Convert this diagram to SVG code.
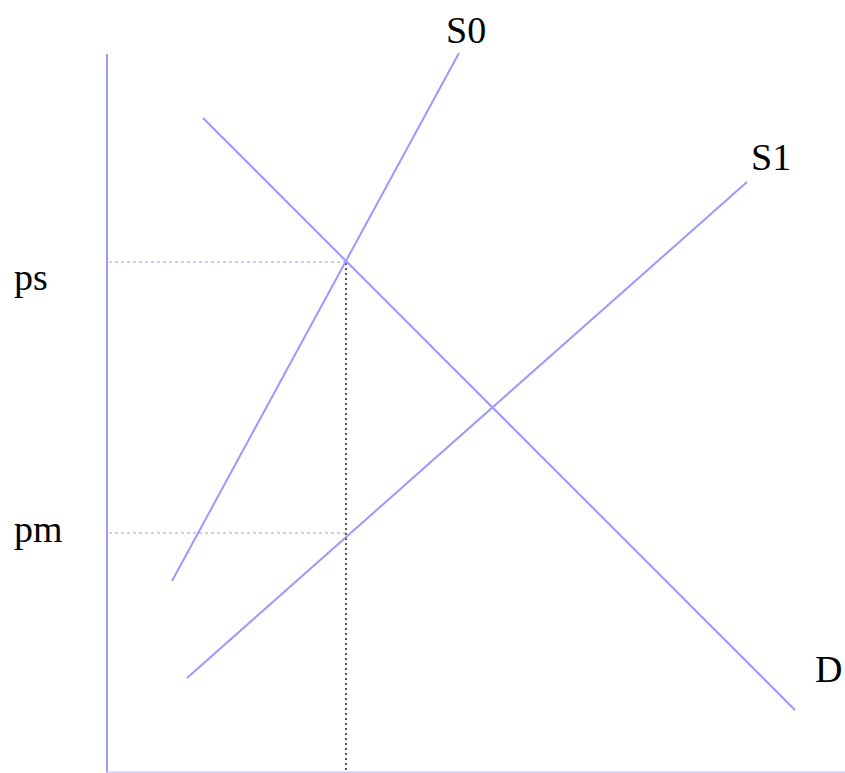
<svg xmlns="http://www.w3.org/2000/svg" width="845" height="773" viewBox="0 0 845 773">
<style>
.curve{stroke:#9999ff;stroke-width:2;fill:none}
.guide{stroke:#ccccff;stroke-width:2;stroke-dasharray:3,3;fill:none}
.drop{stroke:#555555;stroke-width:2;stroke-dasharray:2,3;fill:none}
.lbl{font-family:"Liberation Serif",serif;font-size:38px;fill:#000}
</style>
<rect width="845" height="773" fill="#fff"/>
<g id="axes">
<line x1="107" y1="54" x2="107" y2="773" class="curve"/>
<line x1="106" y1="772.5" x2="845" y2="772.5" stroke="#ccccff" stroke-width="2"/>
</g>
<g id="connectors">
<line class="guide" x1="109" y1="262" x2="346" y2="262"/>
<line class="guide" x1="109" y1="533" x2="346" y2="533"/>
<line class="drop" x1="346" y1="263" x2="346" y2="772"/>
</g>
<g id="S0"><line class="curve" x1="172" y1="581" x2="459" y2="53"/><text class="lbl" x="446" y="43">S0</text></g>
<g id="D"><line class="curve" x1="203" y1="118" x2="795" y2="710"/><text class="lbl" x="815" y="682">D</text></g>
<g id="S1"><line class="curve" x1="187" y1="678" x2="747" y2="182"/><text class="lbl" x="751" y="170">S1</text></g>
<g id="ps"><text class="lbl" x="14" y="290">ps</text></g>
<g id="pm"><text class="lbl" x="14" y="542">pm</text></g>
</svg>
